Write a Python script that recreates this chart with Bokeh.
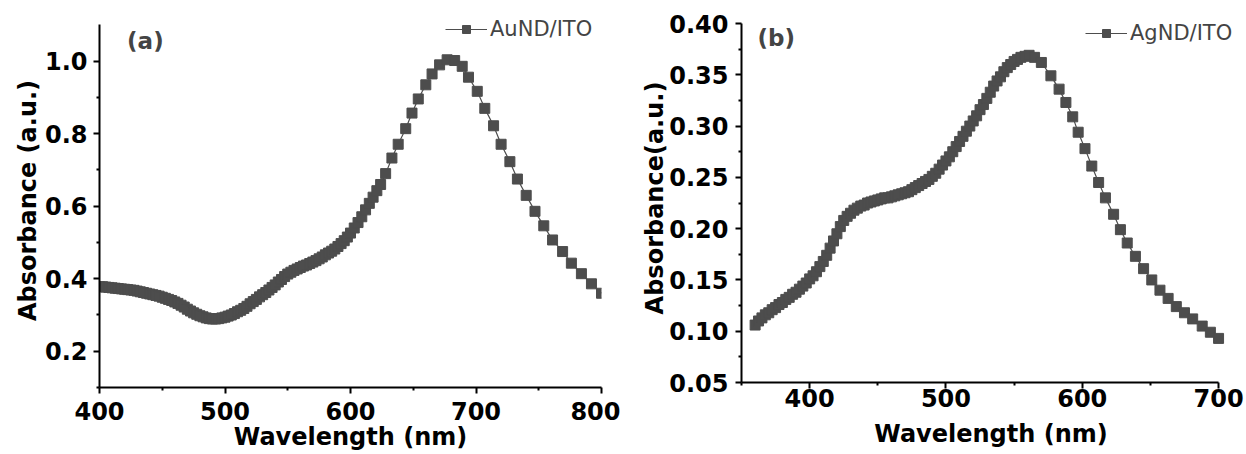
from bokeh.plotting import figure
from bokeh.models import (Range1d, FixedTicker, NumeralTickFormatter, Legend,
                          LegendItem, Label, ColumnDataSource)
from bokeh.layouts import row
from bokeh.embed import file_html
from bokeh.resources import INLINE

# ---------------- data ----------------
au_wavelength = [400, 402.5, 405, 407.5, 410, 412.5, 415, 417.5, 420, 422.5, 425, 427.5,
                 430, 432.5, 435, 437.5, 440, 442.5, 445, 447.5, 450, 452.5, 455, 457.5,
                 460, 462.5, 465, 467.5, 470, 472.5, 475, 477.5, 480, 482.5, 485, 487.5,
                 490, 492.5, 495, 497.5, 500, 502.5, 505, 507.5, 510, 512.5, 515, 517.5,
                 520, 522.5, 525, 527.5, 530, 532.5, 535, 537.5, 540, 542.5, 545, 547.5,
                 550, 552.5, 555, 557.5, 560, 562.5, 565, 567.5, 570, 572.5, 575, 577.5,
                 580, 582.5, 585, 587.5, 590, 592.5, 595, 597.5, 600,
                 603, 606, 609, 612, 615, 618, 621, 624, 628, 633, 638, 644, 649, 654,
                 660, 665, 671, 677, 683, 689, 694, 701, 707, 714, 720, 727, 733, 740,
                 747, 754, 761, 769, 776, 784, 792, 800]
au_absorbance = [0.378, 0.378, 0.377, 0.376, 0.375, 0.374, 0.373, 0.372, 0.371, 0.370,
                 0.369, 0.368, 0.366, 0.364, 0.362, 0.360, 0.358, 0.356, 0.354, 0.352,
                 0.349, 0.346, 0.343, 0.340, 0.336, 0.332, 0.327, 0.322, 0.316, 0.311,
                 0.306, 0.302, 0.298, 0.295, 0.292, 0.290, 0.289, 0.289, 0.290, 0.292,
                 0.294, 0.297, 0.300, 0.304, 0.309, 0.313, 0.318, 0.324, 0.331, 0.337,
                 0.343, 0.350, 0.356, 0.362, 0.369, 0.376, 0.383, 0.391, 0.398, 0.406,
                 0.413, 0.418, 0.423, 0.427, 0.431, 0.435, 0.438, 0.442, 0.446, 0.450,
                 0.455, 0.460, 0.466, 0.471, 0.476, 0.482, 0.489, 0.497, 0.505, 0.515,
                 0.526,
                 0.540, 0.555, 0.571, 0.590, 0.608, 0.625, 0.643, 0.660, 0.690, 0.733,
                 0.771, 0.814, 0.857, 0.896, 0.935, 0.965, 0.990, 1.004, 1.002, 0.986,
                 0.956, 0.917, 0.870, 0.822, 0.771, 0.723, 0.675, 0.630, 0.586, 0.546,
                 0.507, 0.475, 0.443, 0.414, 0.386, 0.360]

ag_wavelength = [360, 362.5, 365, 367.5, 370, 372.5, 375, 377.5, 380, 382.5, 385, 387.5,
                 390, 392.5, 395, 397.5, 400, 402.5, 405, 407.5, 410, 412.5, 415, 417.5,
                 420, 422.5, 425, 427.5, 430, 432.5, 435, 437.5, 440, 442.5, 445, 447.5,
                 450, 452.5, 455, 457.5, 460, 462.5, 465, 467.5, 470, 472.5, 475, 477.5,
                 480, 482.5, 485, 487.5, 490, 492.5, 495, 497.5, 500, 502.5, 505, 507.5,
                 510, 512.5, 515, 517.5, 520, 522.5, 525, 527.5, 530, 532.5, 535, 537.5,
                 540, 542.5, 545, 547.5, 550, 552.5, 555, 558, 561, 565, 570,
                 577, 583, 588, 593, 597, 602, 607, 612, 617, 623, 628, 633, 639, 645,
                 651, 657, 663, 669, 675, 681, 688, 694, 700]
ag_absorbance = [0.106, 0.110, 0.113, 0.116, 0.118, 0.121, 0.123, 0.126, 0.128, 0.131,
                 0.133, 0.136, 0.138, 0.141, 0.144, 0.147, 0.151, 0.154, 0.158, 0.163,
                 0.168, 0.174, 0.181, 0.188, 0.195, 0.202, 0.208, 0.212, 0.215, 0.218,
                 0.220, 0.222, 0.223, 0.225, 0.226, 0.227, 0.228, 0.229, 0.230, 0.230,
                 0.231, 0.232, 0.233, 0.234, 0.235, 0.236, 0.238, 0.240, 0.242, 0.244,
                 0.246, 0.248, 0.251, 0.254, 0.258, 0.262, 0.266, 0.270, 0.275, 0.280,
                 0.285, 0.290, 0.295, 0.300, 0.305, 0.310, 0.316, 0.321, 0.327, 0.333,
                 0.339, 0.344, 0.348, 0.353, 0.357, 0.360, 0.363, 0.365, 0.367, 0.368,
                 0.369, 0.367, 0.362,
                 0.349, 0.336, 0.323, 0.309, 0.294, 0.278, 0.261, 0.245, 0.230, 0.214,
                 0.199, 0.186, 0.173, 0.161, 0.150, 0.140, 0.132, 0.124, 0.118, 0.112,
                 0.105, 0.099, 0.093]

au_xticks = [400, 500, 600, 700, 800]
au_xminor = [450, 550, 650, 750]
au_yticks = [0.2, 0.4, 0.6, 0.8, 1.0]
au_yminor = [0.1, 0.3, 0.5, 0.7, 0.9]

ag_xticks = [400, 500, 600, 700]
ag_xminor = [350, 450, 550, 650]
ag_yticks = [0.05, 0.10, 0.15, 0.20, 0.25, 0.30, 0.35, 0.40]
ag_yminor = [0.075, 0.125, 0.175, 0.225, 0.275, 0.325, 0.375]

FONT = "DejaVu Sans"
MARK = "#4d4d4d"


def make_panel(xs, ys, xr, yr, xb, yb, xt, xm, yt, ym, yfmt, ytitle, name, tag,
               tag_xy, leg_xy, frame, borders, x_standoffs, y_standoffs):
    left, right, top, bottom = borders
    p = figure(frame_width=frame[0], frame_height=frame[1], output_backend="svg",
               toolbar_location=None,
               x_range=Range1d(*xr), y_range=Range1d(*yr),
               min_border_left=left, min_border_right=right,
               min_border_top=top, min_border_bottom=bottom)
    p.outline_line_color = None
    p.xgrid.visible = False
    p.ygrid.visible = False
    p.background_fill_color = "white"
    p.border_fill_color = "white"

    src = ColumnDataSource(dict(x=xs, y=ys))
    ln = p.line("x", "y", source=src, line_color=MARK, line_width=1.2)
    sc = p.scatter("x", "y", source=src, marker="square", size=10,
                   fill_color=MARK, line_color=MARK)

    p.xaxis.ticker = FixedTicker(ticks=xt, minor_ticks=xm)
    p.yaxis.ticker = FixedTicker(ticks=yt, minor_ticks=ym)
    p.xaxis.formatter = NumeralTickFormatter(format="0")
    p.yaxis.formatter = NumeralTickFormatter(format=yfmt)
    p.xaxis.bounds = xb
    p.yaxis.bounds = yb
    p.xaxis.axis_label = "Wavelength (nm)"
    p.yaxis.axis_label = ytitle
    for ax in (p.xaxis, p.yaxis):
        ax.axis_line_width = 2
        ax.axis_line_color = "black"
        ax.major_tick_line_width = 2
        ax.minor_tick_line_width = 2
        ax.major_tick_in = 0
        ax.major_tick_out = 6
        ax.minor_tick_in = 0
        ax.minor_tick_out = 3
        ax.major_label_text_font = FONT
        ax.major_label_text_font_style = "bold"
        ax.major_label_text_font_size = "24px"
        ax.major_label_text_color = "black"
        ax.axis_label_text_font = FONT
        ax.axis_label_text_font_style = "bold"
        ax.axis_label_text_font_size = "24px"
        ax.axis_label_text_color = "black"
    p.xaxis.major_label_standoff = x_standoffs[0]
    p.xaxis.axis_label_standoff = x_standoffs[1]
    p.yaxis.major_label_standoff = y_standoffs[0]
    p.yaxis.axis_label_standoff = y_standoffs[1]

    p.add_layout(Label(x=tag_xy[0], y=tag_xy[1], text=tag, text_font=FONT,
                       text_font_style="bold", text_font_size="23px",
                       text_baseline="middle", text_align="left"))

    leg = Legend(items=[LegendItem(label=name, renderers=[ln, sc])],
                 location=leg_xy, glyph_width=42, glyph_height=20,
                 label_text_font=FONT, label_text_font_size="21px",
                 label_standoff=3, padding=0, spacing=0, margin=0,
                 border_line_alpha=0, background_fill_alpha=0)
    p.add_layout(leg)
    return p


pa = make_panel(au_wavelength, au_absorbance, (400, 800), (0.1, 1.1317),
                (400, 800), (0.1, 1.1),
                au_xticks, au_xminor, au_yticks, au_yminor, "0.0",
                "Absorbance (a.u.)", "AuND/ITO", "(a)", (422, 1.057),
                (346, 346), (502, 374), (99, 19, 12, 68), (8, 0), (6, 0))
pb = make_panel(ag_wavelength, ag_absorbance, (350, 716.1), (0.05, 0.40975),
                (350, 700), (0.05, 0.40),
                ag_xticks, ag_xminor, ag_yticks, ag_yminor, "0.00",
                "Absorbance(a.u.)", "AgND/ITO", "(b)", (361.7, 0.386),
                (344, 337), (499, 369), (121, 6, 13, 72), (0, 10), (7, -3))

layout = row(pa, pb)
open("out.html", "w").write(file_html(layout, INLINE))
